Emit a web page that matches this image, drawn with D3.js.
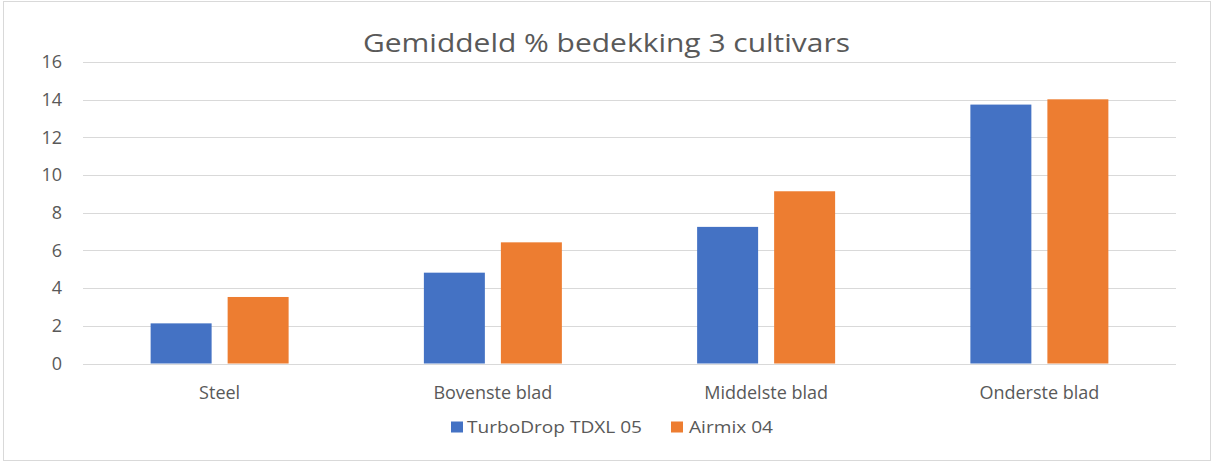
<!DOCTYPE html>
<html>
<head>
<meta charset="utf-8">
<script src="https://cdn.jsdelivr.net/npm/d3@7"></script>
<style>
  html, body { margin: 0; padding: 0; background: #fff; }
  svg { display: block; font-family: "Open Sans", "Noto Sans", sans-serif; }
</style>
</head>
<body>
<svg id="chart" width="1216" height="467"></svg>
<script>
const categories = ["Steel", "Bovenste blad", "Middelste blad", "Onderste blad"];
const seriesNames = ["TurboDrop TDXL 05", "Airmix 04"];
const turboDrop = [2.13, 4.82, 7.25, 13.74];
const airmix = [3.53, 6.43, 9.14, 14.02];
const yTicks = [0, 2, 4, 6, 8, 10, 12, 14, 16];
const colors = ["#4472C4", "#ED7D31"];
const title = "Gemiddeld % bedekking 3 cultivars";

const seriesValues = [turboDrop, airmix];
const svg = d3.select("#chart");
const textColor = "#595959";

// outer border
svg.append("rect")
  .attr("x", 3.5).attr("y", 1.5)
  .attr("width", 1207).attr("height", 459)
  .attr("fill", "#fff").attr("stroke", "#d9d9d9").attr("stroke-width", 1);

const plot = { left: 83, right: 1176, top: 62, bottom: 363.5 };

const y = d3.scaleLinear().domain([0, 16]).range([plot.bottom, plot.top]);
const x0 = d3.scaleBand().domain(categories)
  .range([plot.left, plot.right])
  .paddingInner(0.495).paddingOuter(0.2475);
const x1 = d3.scaleBand().domain(seriesNames)
  .range([0, x0.bandwidth()])
  .paddingInner(0.208).paddingOuter(0);

// gridlines
svg.append("g").selectAll("line").data(yTicks).join("line")
  .attr("x1", plot.left).attr("x2", plot.right)
  .attr("y1", d => Math.round(y(d)) + 0.5).attr("y2", d => Math.round(y(d)) + 0.5)
  .attr("stroke", "#d9d9d9").attr("stroke-width", 1);

// y axis labels
const yAxis = d3.axisLeft(y).tickValues(yTicks).tickSize(0).tickPadding(0);
const yg = svg.append("g").attr("transform", `translate(62,0)`).call(yAxis);
yg.select(".domain").remove();
yg.selectAll("text")
  .attr("fill", textColor)
  .style("font-size", "18px")
  .style("font-family", '"Open Sans", "Noto Sans", sans-serif');

// x axis labels
const xAxis = d3.axisBottom(x0).tickSize(0).tickPadding(0);
const xg = svg.append("g").attr("transform", `translate(0,${plot.bottom})`).call(xAxis);
xg.select(".domain").remove();
xg.selectAll("text")
  .attr("fill", textColor)
  .attr("dy", "0")
  .attr("y", 35)
  .style("font-size", "18px")
  .style("font-family", '"Open Sans", "Noto Sans", sans-serif');

// bars
const groups = svg.append("g").selectAll("g").data(categories).join("g")
  .attr("transform", d => `translate(${x0(d)},0)`);
groups.selectAll("rect")
  .data((c, i) => seriesNames.map((s, si) => ({ s, si, v: seriesValues[si][i] })))
  .join("rect")
  .attr("x", d => x1(d.s))
  .attr("width", x1.bandwidth())
  .attr("y", d => y(d.v))
  .attr("height", d => y(0) - y(d.v))
  .attr("fill", d => colors[d.si]);

// title
svg.append("text")
  .attr("x", 606.5).attr("y", 52)
  .attr("text-anchor", "middle")
  .attr("fill", textColor)
  .style("font-size", "25px")
  .attr("textLength", 487).attr("lengthAdjust", "spacingAndGlyphs")
  .text(title);

// legend
const legendItems = [
  { name: seriesNames[0], color: colors[0], sx: 451, tx: 467, w: 175 },
  { name: seriesNames[1], color: colors[1], sx: 671, tx: 689, w: 84 }
];
const lg = svg.append("g");
legendItems.forEach(it => {
  lg.append("rect").attr("x", it.sx).attr("y", 421.5).attr("width", 12).attr("height", 11).attr("fill", it.color);
  lg.append("text").attr("x", it.tx).attr("y", 433)
    .attr("fill", textColor).style("font-size", "16px")
    .attr("textLength", it.w).attr("lengthAdjust", "spacingAndGlyphs")
    .text(it.name);
});
</script>
</body>
</html>
